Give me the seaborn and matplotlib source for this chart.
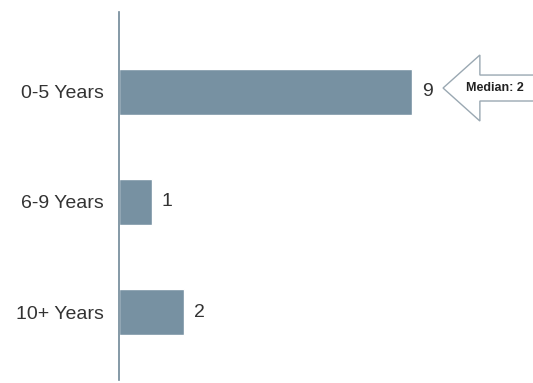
import matplotlib
matplotlib.use("Agg")
import matplotlib.pyplot as plt
import seaborn as sns
import pandas as pd
from matplotlib.patches import Polygon

categories = ["0-5 Years", "6-9 Years", "10+ Years"]
counts = [9, 1, 2]
median_label = "Median: 2"

df = pd.DataFrame({"tenure": categories, "count": counts})

sns.set_style("white")
plt.rcParams["font.family"] = ["Liberation Sans", "DejaVu Sans"]

bar_color = "#7791a2"

fig = plt.figure(figsize=(5.33, 3.83), dpi=100)
ax = fig.add_axes([119 / 533, 3 / 383, 414 / 533, 368 / 383])

sns.barplot(data=df, x="count", y="tenure", orient="h", color=bar_color,
            saturation=1, width=0.42, ax=ax)

ax.set_xlim(0, 414 / 32.6)
ax.set_ylim(2.618, -0.727)
ax.set_xlabel("")
ax.set_ylabel("")
ax.set_xticks([])
ax.tick_params(axis="y", length=0, labelsize=14, pad=11, colors="#333333")

for side in ["top", "right", "bottom"]:
    ax.spines[side].set_visible(False)
ax.spines["left"].set_color("#6f8797")
ax.spines["left"].set_linewidth(1.2)

for i, v in enumerate(counts):
    ax.text(v + 0.3, i, str(v), va="center", ha="left", fontsize=14,
            color="#333333")

# callout arrow pointing at the top bar
cy = -0.036
tip = counts[0] + 0.94
arrow = Polygon([(tip, cy), (tip + 1.13, cy - 0.3), (tip + 1.13, cy - 0.118),
                 (14, cy - 0.118), (14, cy + 0.118), (tip + 1.13, cy + 0.118),
                 (tip + 1.13, cy + 0.3)],
                closed=True, facecolor="white", edgecolor="#9aa8b2",
                linewidth=1.0, clip_on=False)
ax.add_patch(arrow)
ax.text(tip + 1.6, cy, median_label, ha="center", va="center", fontsize=9,
        fontweight="bold", color="#222222",
        family=["Liberation Sans Narrow", "Liberation Sans", "DejaVu Sans"])

fig.savefig("out.png", dpi=100)
